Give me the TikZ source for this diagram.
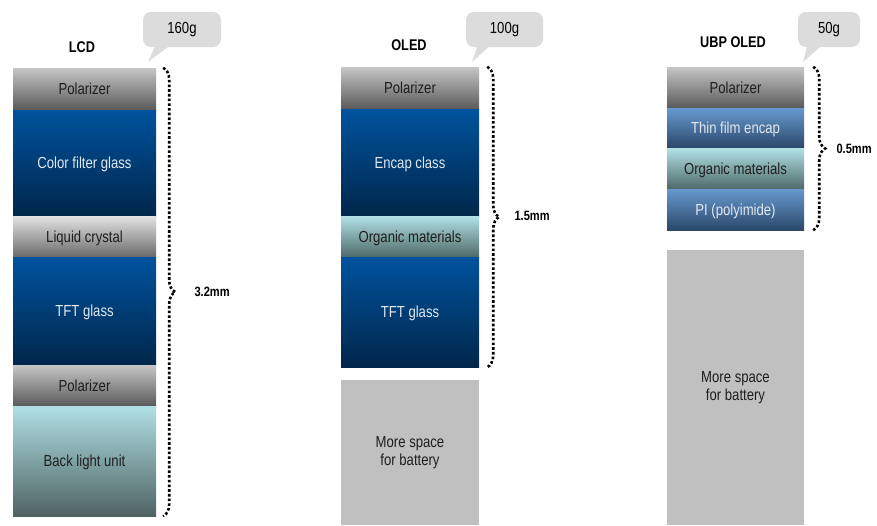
\documentclass[tikz,border=0pt]{standalone}
\usepackage{fontspec}
\setmainfont{Liberation Sans}[FakeStretch=0.82]
\usetikzlibrary{decorations.pathreplacing}

\definecolor{polTop}{HTML}{C6C6C6}
\definecolor{polBot}{HTML}{5A5A5A}
\definecolor{lcTop}{HTML}{E4E4E4}
\definecolor{lcBot}{HTML}{6A6A6A}
\definecolor{blueTop}{HTML}{00539E}
\definecolor{blueBot}{HTML}{00264A}
\definecolor{ltBlueTop}{HTML}{6699D0}
\definecolor{ltBlueBot}{HTML}{2B4869}
\definecolor{orgTop}{HTML}{B2E2E6}
\definecolor{orgBot}{HTML}{4E6868}
\definecolor{bluTop}{HTML}{B0E0E5}
\definecolor{bluBot}{HTML}{4F6363}
\definecolor{battery}{HTML}{C0C0C0}
\definecolor{bubbleFill}{HTML}{DCDCDC}
\definecolor{darkText}{HTML}{1E1E1E}
\definecolor{lightText}{HTML}{E2E8F0}

\begin{document}
\begin{tikzpicture}[x=1pt,y=-1pt,
  layer/.style={inner sep=0pt, minimum width=#1, align=center,
    font=\fontsize{16}{18.5}\selectfont},
  one line/.style={text depth=0pt},
  polar/.style={one line, top color=polTop, bottom color=polBot, text=darkText},
  liquid/.style={one line, top color=lcTop, bottom color=lcBot, text=darkText},
  glass/.style={one line, top color=blueTop, bottom color=blueBot, text=lightText},
  thinglass/.style={one line, top color=ltBlueTop, bottom color=ltBlueBot, text=lightText},
  organic/.style={one line, top color=orgTop, bottom color=orgBot, text=darkText},
  backlight/.style={one line, top color=bluTop, bottom color=bluBot, text=darkText},
  spare/.style={fill=battery, text=darkText},
  title/.style={font=\bfseries\fontsize{15.5}{17}\selectfont},
  bubble/.style={fill=bubbleFill, rounded corners=8pt, inner sep=0pt,
    minimum height=35pt, font=\fontsize{16}{18}\selectfont},
  tail/.style={fill=bubbleFill},
  dotbrace/.style={decorate, decoration={brace, amplitude=12pt},
    line width=2.6pt, dash pattern=on 2.6pt off 2.1pt},
  thick label/.style={font=\bfseries\fontsize{13.5}{15}\selectfont, anchor=west}
]
\useasboundingbox (0,0) rectangle (877,525);

% ---------- LCD stack ----------
\node[title] (lcdT) at (82,47) {LCD};
\node[layer=143pt, minimum height=42pt, polar]     (lcd1) at (84.5,89)    {Polarizer};
\node[layer=143pt, minimum height=106pt, glass]    (lcd2) at (84.5,163)   {Color filter glass};
\node[layer=143pt, minimum height=41pt, liquid]    (lcd3) at (84.5,236.5) {Liquid crystal};
\node[layer=143pt, minimum height=108pt, glass]    (lcd4) at (84.5,311)   {TFT glass};
\node[layer=143pt, minimum height=41pt, polar]     (lcd5) at (84.5,385.5) {Polarizer};
\node[layer=143pt, minimum height=110pt, backlight](lcd6) at (84.5,461)   {Back light unit};

% ---------- OLED stack ----------
\node[title] (oledT) at (409,45) {OLED};
\node[layer=138pt, minimum height=42pt, polar]   (oled1) at (410,88)    {Polarizer};
\node[layer=138pt, minimum height=107pt, glass]  (oled2) at (410,162.5) {Encap class};
\node[layer=138pt, minimum height=41pt, organic] (oled3) at (410,236.5) {Organic materials};
\node[layer=138pt, minimum height=110pt, glass]  (oled4) at (410,312)   {TFT glass};
\node[layer=138pt, minimum height=145pt, spare]  (oled5) at (410,452.5) {More space\\for battery};

% ---------- UBP OLED stack ----------
\node[title] (ubpT) at (733,42) {UBP OLED};
\node[layer=137pt, minimum height=41pt, polar]     (ubp1) at (735.5,87.5)  {Polarizer};
\node[layer=137pt, minimum height=40pt, thinglass] (ubp2) at (735.5,128)   {Thin film encap};
\node[layer=137pt, minimum height=41pt, organic]   (ubp3) at (735.5,168.5) {Organic materials};
\node[layer=137pt, minimum height=41pt, thinglass] (ubp4) at (735.5,209.5) {PI (polyimide)};
\node[layer=137pt, minimum height=275pt, spare]    (ubp5) at (735.5,387.5) {More space\\for battery};

% ---------- weight callouts ----------
\node[bubble, minimum width=78pt] (w1) at (182,29.5) {160g};
\fill[tail] ([xshift=-27pt,yshift=1pt]w1.south) -- (148,62) -- ([xshift=-13pt,yshift=1pt]w1.south) -- cycle;
\node[bubble, minimum width=77pt] (w2) at (504.5,29.5) {100g};
\fill[tail] ([xshift=-27pt,yshift=1pt]w2.south) -- (472,62) -- ([xshift=-15pt,yshift=1pt]w2.south) -- cycle;
\node[bubble, minimum width=62pt] (w3) at (829,29.5) {50g};
\fill[tail] ([xshift=-22pt,yshift=1pt]w3.south) -- (803,62) -- ([xshift=-8pt,yshift=1pt]w3.south) -- cycle;

% ---------- thickness braces ----------
\draw[dotbrace] ([xshift=7pt]lcd1.north east) -- ([xshift=7pt]lcd6.south east);
\node[thick label] (t1) at (191,292) {3.2mm};
\draw[dotbrace] ([xshift=8pt]oled1.north east) -- ([xshift=8pt]oled4.south east);
\node[thick label] (t2) at (511,216) {1.5mm};
\draw[dotbrace] ([xshift=9pt]ubp1.north east) -- ([xshift=9pt]ubp4.south east);
\node[thick label] (t3) at (833,149) {0.5mm};
\end{tikzpicture}
\end{document}
